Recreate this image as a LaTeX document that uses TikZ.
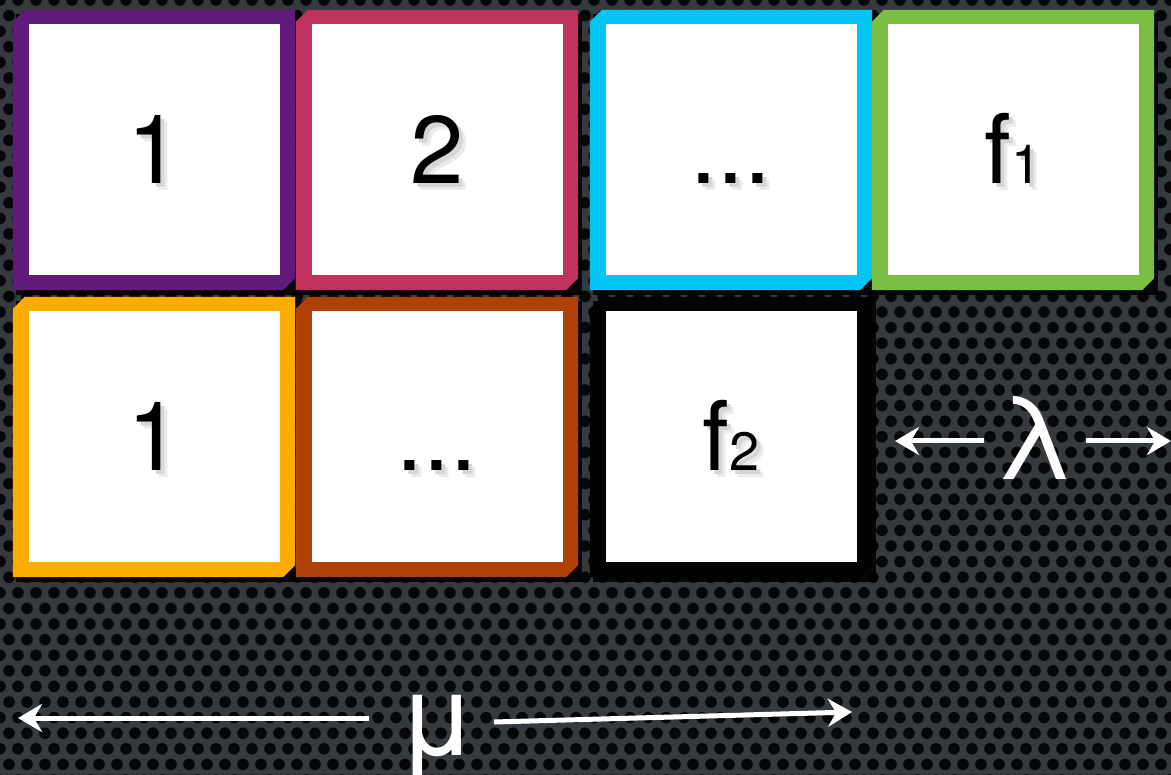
\documentclass[tikz,border=0pt]{standalone}
\usepackage{fontspec}
\setmainfont{TeX Gyre Heros}
\usetikzlibrary{arrows.meta}
\definecolor{cpurple}{HTML}{5F1A7A}
\definecolor{cpink}{HTML}{C1335F}
\definecolor{ccyan}{HTML}{00C6F4}
\definecolor{cgreen}{HTML}{7CBE43}
\definecolor{corange}{HTML}{FFAB00}
\definecolor{cbrown}{HTML}{AF4106}
\definecolor{cblackbox}{HTML}{030303}
\definecolor{bgc}{HTML}{363A3F}
\definecolor{holec}{HTML}{060708}
\newcommand{\shtxt}[1]{\makebox[0pt][l]{\kern7pt\raisebox{-7pt}{\textcolor{black!8}{#1}}}\makebox[0pt][l]{\kern4pt\raisebox{-4pt}{\textcolor{black!16}{#1}}}#1}
\newcommand{\subfont}{\fontsize{54}{54}\selectfont}
\tikzset{
  boxout/.style={rectangle, minimum width=282pt, minimum height=280pt, inner sep=0pt, draw=none},
  boxin/.style={fill=white, minimum width=251pt, minimum height=251pt, inner sep=0pt,
    font=\fontsize{96}{96}\selectfont, text height=68pt, text depth=0pt, align=center},
  greek/.style={text=white, font=\fontsize{115}{115}\selectfont, inner sep=0pt},
  arr/.style={draw=white, line width=5pt, -{Stealth[length=24pt,width=28pt,inset=8pt]}},
  boxshadow/.style={fill=black, opacity=0.85},
}
\begin{document}
\begin{tikzpicture}[x=1pt,y=-1pt]
\useasboundingbox (0,0) rectangle (1171,775);
\fill[bgc] (0,0) rectangle (1171,775);
\begin{scope}
\clip (0,0) rectangle (1171,775);
\foreach \j in {0,...,50}{
  \foreach \i in {0,...,66}{
    \fill[holec] ({\i*18+mod(\j,2)*9},{\j*15.6}) circle (5.8);
  }
}
\end{scope}
% outer frames (named, drawn below)
\node[boxout] (b1o) at (154,150) {};
\node[boxout] (b2o) at (437,150) {};
\node[boxout] (b3o) at (731,150) {};
\node[boxout] (b4o) at (1013,150) {};
\node[boxout] (b5o) at (154,437) {};
\node[boxout] (b6o) at (437,437) {};
\node[boxout] (b7o) at (731,437) {};
% shadows
\foreach \n in {b1o,b2o,b3o,b4o,b5o,b6o,b7o}{
  \fill[boxshadow] ([xshift=3pt,yshift=-4pt]\n.north west) rectangle ([xshift=4pt,yshift=-5pt]\n.south east);
}
% chamfered coloured frames
\foreach \n/\c in {b1o/cpurple,b2o/cpink,b3o/ccyan,b4o/cgreen,b5o/corange,b6o/cbrown,b7o/cblackbox}{
  \fill[\c] ([yshift=-12pt]\n.north west) -- ([xshift=12pt]\n.north west) -- (\n.north east)
    -- ([yshift=12pt]\n.south east) -- ([xshift=-12pt]\n.south east) -- (\n.south west) -- cycle;
}
% inner squares with labels
\node[boxin] (b1) at (b1o) {\shtxt{1}};
\node[boxin] (b2) at (b2o) {\shtxt{2}};
\node[boxin] (b3) at (b3o) {\shtxt{...}};
\node[boxin] (b4) at (b4o) {\shtxt{f{\subfont 1}}};
\node[boxin] (b5) at (b5o) {\shtxt{1}};
\node[boxin] (b6) at (b6o) {\shtxt{...}};
\node[boxin] (b7) at (b7o) {\shtxt{f{\subfont 2}}};
% lambda
\node[greek, anchor=base, inner xsep=11pt] (lam) at (1035,480) {λ};
\coordinate (lamL) at (895,441);
\coordinate (lamR) at (1171,441);
\draw[arr] (lam.west |- lamL) -- (lamL);
\draw[arr] (lam.east |- lamR) -- (lamR);
% mu
\node[greek, anchor=base] (mu) at (437,755) {μ};
\coordinate (muL) at (18,718);
\coordinate (muR) at (852,712);
\draw[arr, shorten <=28pt] (mu.west |- muL) -- (muL);
\draw[arr] ([xshift=17pt]mu.east |- 0,722) -- (muR);
\end{tikzpicture}
\end{document}
